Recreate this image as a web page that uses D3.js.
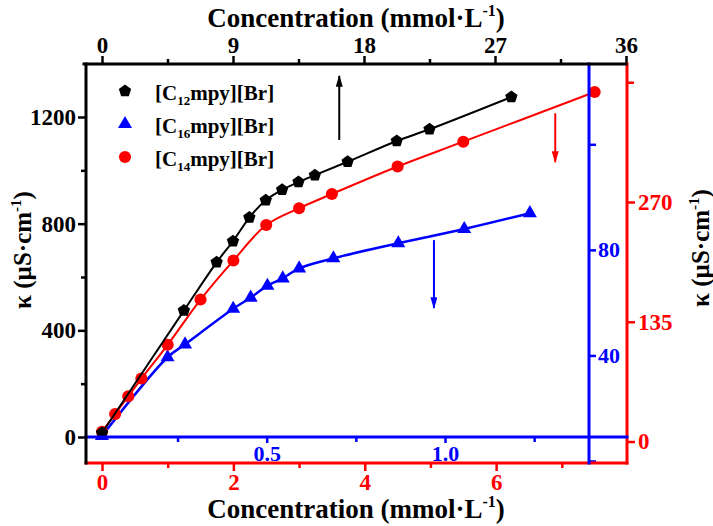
<!DOCTYPE html>
<html>
<head>
<meta charset="utf-8">
<script src="https://cdn.jsdelivr.net/npm/d3@7"></script>
<style>
html,body{margin:0;padding:0;background:#fff;}
svg text{font-family:"Liberation Serif","Times New Roman",serif;font-weight:bold;}
</style>
</head>
<body>
<svg id="chart" width="713" height="526"></svg>
<script>
// ---------- data ----------
// [C12mpy][Br] : top axis (mmol/L) vs left axis (µS/cm)
const c12X = [0, 5.625, 7.875, 9.0, 10.125, 11.25, 12.375, 13.5, 14.625, 16.875, 20.25, 22.5, 28.125];
const c12Y = [15, 474, 655, 734, 823, 888, 927, 956, 982, 1032, 1110, 1154, 1275];
// [C14mpy][Br] : bottom axis vs right red axis
const c14X = [0, 0.2, 0.4, 0.6, 1.0, 1.5, 2.0, 2.5, 3.0, 3.5, 4.5, 5.5, 7.5];
const c14Y = [11, 31, 51, 71, 109, 160, 204, 244, 263, 279, 310, 338, 394];
// [C16mpy][Br] : blue axis vs blue right axis
const c16X = [0.038, 0.222, 0.271, 0.406, 0.455, 0.502, 0.545, 0.591, 0.687, 0.869, 1.054, 1.238];
const c16Y = [9.5, 39.3, 44.2, 57.7, 61.9, 66.4, 69.2, 73.0, 76.8, 82.5, 87.9, 93.9];

const topTicks = [0, 9, 18, 27, 36];
const topMinor = [4.5, 13.5, 22.5, 31.5];
const leftTicks = [0, 400, 800, 1200];
const leftMinor = [200, 600, 1000];
const botTicks = [0, 2, 4, 6];
const botMinor = [1, 3, 5, 7];
const redTicks = [0, 135, 270];
const redExtra = [405];
const blueXTicks = [0.5, 1.0];
const blueXMinor = [0.25, 0.75, 1.25];
const blueYTicks = [40, 80];
const blueYExtra = [0, 120];

const legendItems = [
  {sub: "12", color: "#000", sym: "pent"},
  {sub: "16", color: "#0000ff", sym: "tri"},
  {sub: "14", color: "#ff0000", sym: "circ"}
];

// arrows (in data units of their own series)
const arrowC12 = {x: 16.3, y0: 1114, y1: 1354};
const arrowC14 = {x: 6.9, y0: 370, y1: 315};
const arrowC16 = {x: 0.969, y0: 83.7, y1: 58};

// ---------- layout ----------
const L = 86, R = 627, T = 64, B = 463, BLUEX = 589;
const BLACK = "#000", RED = "#ff0000", BLUE = "#0000ff";

const svg = d3.select("#chart");
svg.append("rect").attr("width", 713).attr("height", 526).attr("fill", "#fff");

const xTop = d3.scaleLinear().domain([0, 36]).range([102, 626]);
const yLeft = d3.scaleLinear().domain([0, 1200]).range([437, 117]);
const xBot = d3.scaleLinear().domain([0, 8]).range([102, 627.5]);
const yRed = d3.scaleLinear().domain([0, 270]).range([441.5, 202]);
const xBlue = d3.scaleLinear().domain([0, 1]).range([88.4, 445]);
const yBlue = d3.scaleLinear().domain([0, 120]).range([461, 144.3]);

// pentagon symbol
const pentagon = {
  draw(ctx, size) {
    const r = Math.sqrt(size / 2.3776);
    for (let i = 0; i < 5; i++) {
      const a = -Math.PI / 2 + i * 2 * Math.PI / 5;
      const x = r * Math.cos(a), y = r * Math.sin(a);
      if (i === 0) ctx.moveTo(x, y); else ctx.lineTo(x, y);
    }
    ctx.closePath();
  }
};
const symPath = {
  pent: d3.symbol().type(pentagon).size(100)(),
  tri: d3.symbol().type(d3.symbolTriangle).size(85)(),
  circ: d3.symbol().type(d3.symbolCircle).size(115)()
};

function series(xs, ys, xs_, ys_, color, sym, w) {
  const pts = xs.map((x, i) => [xs_(x), ys_(ys[i])]);
  svg.append("path")
    .attr("d", d3.line().curve(d3.curveCatmullRom.alpha(0.5))(pts))
    .attr("fill", "none").attr("stroke", color).attr("stroke-width", w);
  svg.append("g").selectAll("path").data(pts).join("path")
    .attr("transform", d => `translate(${d[0]},${d[1]})`)
    .attr("d", symPath[sym]).attr("fill", color);
}

series(c16X, c16Y, xBlue, yBlue, BLUE, "tri", 2.5);
series(c14X, c14Y, xBot, yRed, RED, "circ", 2);
series(c12X, c12Y, xTop, yLeft, BLACK, "pent", 2);

// ---------- axes ----------
function styleAxis(g, color, fs) {
  g.select(".domain").remove();
  g.selectAll(".tick line").attr("stroke", color).attr("stroke-width", 2.5);
  g.selectAll(".tick text").attr("fill", color).attr("font-size", fs).attr("font-family", "Liberation Serif").attr("font-weight", "bold");
}

// top black
const gTop = svg.append("g").attr("transform", `translate(0,${T})`)
  .call(d3.axisTop(xTop).tickValues(topTicks).tickSize(8).tickPadding(3).tickFormat(d3.format("d")));
styleAxis(gTop, BLACK, 23);
svg.append("g").attr("transform", `translate(0,${T})`)
  .call(d3.axisTop(xTop).tickValues(topMinor).tickSize(5).tickFormat(""))
  .call(g => styleAxis(g, BLACK, 23));

// left black
const gLeft = svg.append("g").attr("transform", `translate(${L},0)`)
  .call(d3.axisLeft(yLeft).tickValues(leftTicks).tickSize(8).tickPadding(2).tickFormat(d3.format("d")));
styleAxis(gLeft, BLACK, 23);
svg.append("g").attr("transform", `translate(${L},0)`)
  .call(d3.axisLeft(yLeft).tickValues(leftMinor).tickSize(5).tickFormat(""))
  .call(g => styleAxis(g, BLACK, 23));

// bottom red
const gBot = svg.append("g").attr("transform", `translate(0,${B})`)
  .call(d3.axisBottom(xBot).tickValues(botTicks).tickSize(8).tickPadding(3).tickFormat(d3.format("d")));
styleAxis(gBot, RED, 23);
svg.append("g").attr("transform", `translate(0,${B})`)
  .call(d3.axisBottom(xBot).tickValues(botMinor).tickSize(5).tickFormat(""))
  .call(g => styleAxis(g, RED, 23));

// right red
const gRed = svg.append("g").attr("transform", `translate(${R},0)`)
  .call(d3.axisRight(yRed).tickValues(redTicks).tickSize(8).tickPadding(3).tickFormat(d3.format("d")));
styleAxis(gRed, RED, 23);
svg.append("g").attr("transform", `translate(${R},0)`)
  .call(d3.axisRight(yRed).tickValues(redExtra).tickSize(7).tickFormat(""))
  .call(g => styleAxis(g, RED, 23));

// blue x axis (horizontal at y of black zero)
const blueAxisY = yLeft(0);
const gBX = svg.append("g").attr("transform", `translate(0,${blueAxisY})`)
  .call(d3.axisBottom(xBlue).tickValues(blueXTicks).tickSize(6).tickPadding(2).tickFormat(d3.format(".1f")));
styleAxis(gBX, BLUE, 22);
svg.append("g").attr("transform", `translate(0,${blueAxisY})`)
  .call(d3.axisBottom(xBlue).tickValues(blueXMinor).tickSize(5).tickFormat(""))
  .call(g => styleAxis(g, BLUE, 22));

// blue y axis
const gBY = svg.append("g").attr("transform", `translate(${BLUEX},0)`)
  .call(d3.axisRight(yBlue).tickValues(blueYTicks).tickSize(7).tickPadding(2).tickFormat(d3.format("d")));
styleAxis(gBY, BLUE, 22);
svg.append("g").attr("transform", `translate(${BLUEX},0)`)
  .call(d3.axisRight(yBlue).tickValues(blueYExtra).tickSize(7).tickFormat(""))
  .call(g => styleAxis(g, BLUE, 22));

// axis lines
function line(x1, y1, x2, y2, c, w) {
  svg.append("line").attr("x1", x1).attr("y1", y1).attr("x2", x2).attr("y2", y2)
    .attr("stroke", c).attr("stroke-width", w).attr("stroke-linecap", "square");
}
line(L, B, R, B, RED, 3);
line(R, T, R, B, RED, 3);
line(L, blueAxisY, R, blueAxisY, BLUE, 3);
line(BLUEX, T, BLUEX, B, BLUE, 3);
line(L - 2, T, R - 1, T, BLACK, 3);
line(L, T, L, B, BLACK, 3);

// ---------- arrows ----------
const defs = svg.append("defs");
[["ab", BLACK], ["ar", RED], ["abl", BLUE]].forEach(([id, c]) => {
  defs.append("marker").attr("id", id).attr("viewBox", "0 0 10 10")
    .attr("preserveAspectRatio", "none")
    .attr("refX", 9).attr("refY", 5).attr("markerWidth", 6).attr("markerHeight", 3.5)
    .attr("markerUnits", "strokeWidth").attr("orient", "auto")
    .append("path").attr("d", "M0,0L10,5L0,10Z").attr("fill", c);
});
function arrow(x, y0, y1, c, id) {
  svg.append("line").attr("x1", x).attr("y1", y0).attr("x2", x).attr("y2", y1)
    .attr("stroke", c).attr("stroke-width", 2).attr("marker-end", `url(#${id})`);
}
arrow(xTop(arrowC12.x), yLeft(arrowC12.y0), yLeft(arrowC12.y1), BLACK, "ab");
arrow(xBot(arrowC14.x), yRed(arrowC14.y0), yRed(arrowC14.y1), RED, "ar");
arrow(xBlue(arrowC16.x), yBlue(arrowC16.y0), yBlue(arrowC16.y1), BLUE, "abl");

// ---------- legend ----------
legendItems.forEach((d, i) => {
  const cy = 91 + i * 33;
  svg.append("path").attr("transform", `translate(125,${cy})`).attr("d", symPath[d.sym]).attr("fill", d.color);
  const t = svg.append("text").attr("x", 155).attr("y", cy + 8.5).attr("font-size", 21).attr("fill", "#000");
  t.append("tspan").text("[C");
  t.append("tspan").attr("font-size", 13).attr("dy", 5).text(d.sub);
  t.append("tspan").attr("dy", -5).text("mpy][Br]");
});

// ---------- titles ----------
function concTitle(y) {
  const t = svg.append("text").attr("x", 356).attr("y", y).attr("text-anchor", "middle")
    .attr("font-size", 27).attr("fill", "#000");
  t.append("tspan").text("Concentration (mmol·L");
  t.append("tspan").attr("font-size", 16).attr("dy", -11).text("-1");
  t.append("tspan").attr("dy", 11).text(")");
}
concTitle(27);
concTitle(518);

function kappaTitle(x, y) {
  const t = svg.append("text").attr("transform", `translate(${x},${y}) rotate(-90)`)
    .attr("text-anchor", "middle").attr("font-size", 25).attr("fill", "#000");
  t.append("tspan").text("κ (µS·cm");
  t.append("tspan").attr("font-size", 15).attr("dy", -10).text("-1");
  t.append("tspan").attr("dy", 10).text(")");
}
kappaTitle(31, 250);
kappaTitle(709, 248);
</script>
</body>
</html>
